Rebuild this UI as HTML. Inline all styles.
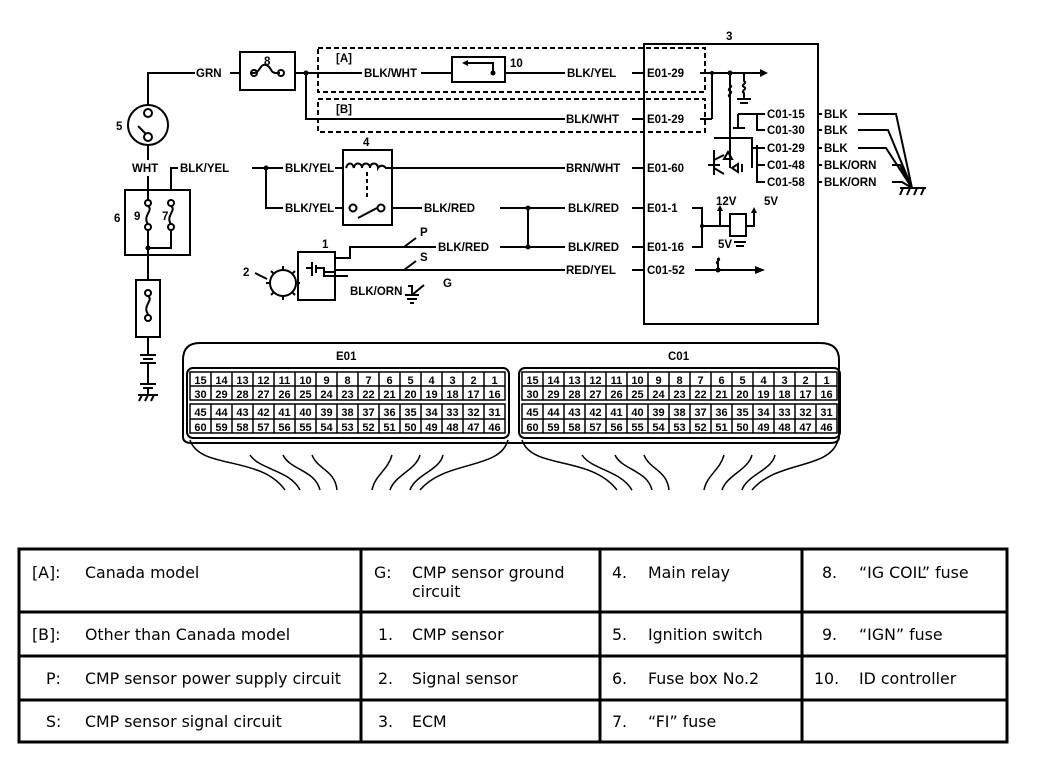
<!DOCTYPE html>
<html><head><meta charset="utf-8"><style>
html,body{margin:0;padding:0;background:#fff;}
svg{display:block;}
.l{font-family:"Liberation Sans",Arial,sans-serif;font-weight:bold;font-size:11.5px;fill:#000;}
.n{font-family:"Liberation Sans",Arial,sans-serif;font-weight:bold;font-size:11px;fill:#000;text-anchor:middle;}
.t{font-family:"DejaVu Sans",Verdana,sans-serif;font-size:15.8px;fill:#000;}
</style></head><body>
<svg width="1056" height="766" viewBox="0 0 1056 766" xmlns="http://www.w3.org/2000/svg">
<g stroke="#000" stroke-width="2" fill="none">
<path d="M148 105 V73 H195"/>
<circle cx="148" cy="125" r="20"/>
<circle cx="148" cy="113" r="4"/>
<circle cx="148" cy="137" r="4"/>
<line x1="138" y1="126" x2="146" y2="134"/>
<line x1="148" y1="145" x2="148" y2="160"/>
<line x1="230" y1="73" x2="240" y2="73"/>
<rect x="240" y="52" width="55" height="38"/>
<path d="M250 73 h4 M254 73 c6 0 6 -10 12 -8 c6 2 4 8 10 8 h4"/>
<circle cx="254" cy="73" r="3"/><circle cx="281" cy="73" r="3"/>
<path d="M295 73 H362 M421 73 H452 M505 73 H565 M632 73 H645"/>
<path d="M306 73 V119 H565 M632 119 H645"/>
<rect x="452" y="57" width="53" height="25"/>
<path d="M468 63 H493 V73"/>
<rect x="318" y="48" width="387" height="44" stroke-dasharray="5,3"/>
<rect x="318" y="99" width="387" height="33" stroke-dasharray="5,3"/>
<path d="M148 176 V190"/>
<rect x="125" y="190" width="65" height="65"/>
<path d="M148 190 v10 M148 248 V280 M171 190 V168 H178"/>
<path d="M148 230 V248 H171 V230"/>
<circle cx="148" cy="203" r="3"/><path d="M148 206 c6 4 -6 10 0 18"/><circle cx="148" cy="227" r="3"/>
<circle cx="171" cy="203" r="3"/><path d="M171 206 c6 4 -6 10 0 18"/><circle cx="171" cy="227" r="3"/>
<rect x="136" y="280" width="24" height="57"/>
<circle cx="148" cy="293" r="3"/><path d="M148 296 c6 4 -6 10 0 18"/><circle cx="148" cy="318" r="3"/>
<path d="M148 337 V355 M148 372 V384"/>
<path d="M140 355 h16 M143 359 h10 M140 363 h16 M148 363 v9" />
<path d="M140 384 h16 M143 388 h10" />
<path d="M148 388 v6 M138 395 h20"/>
<path d="M142 395 l-3 6 M148 395 l-3 6 M154 395 l-3 6"/>
<path d="M252 168 H283 M266 168 V208 H283 M335 168 H343 M335 208 H343"/>
<rect x="343" y="150" width="49" height="75"/>
<path d="M346 168 c2 -6 6 -6 8 0 M354 168 c0 -6 8 -6 8 0 M362 168 c0 -6 8 -6 8 0 M370 168 c0 -6 8 -6 8 0 c3 -4 6 -2 8 0 H392"/>
<line x1="367" y1="172" x2="367" y2="200" stroke-dasharray="4,3"/>
<circle cx="353" cy="208" r="3.5"/><circle cx="381" cy="208" r="3.5"/>
<line x1="358" y1="218" x2="377" y2="208"/>
<path d="M392 168 H565 M632 168 H645"/>
<path d="M392 208 H422 M500 208 H565 M632 208 H645 M528 208 V247 M500 247 H565 M632 247 H645"/>
<rect x="298" y="252" width="37" height="48"/>
<path d="M335 258 H350 V247 H436"/>
<path d="M335 270 H565 M632 270 H645"/>
<path d="M306 268 h6 M312 262 v14 M316 265 v8 M316 268 h8 v4 h11 M324 268 v8 h24"/>
<path d="M408 286 h4 v9 M405 295 h14 M407 299 h10 M410 303 h4 M412 295 l12 -10"/>
<path d="M404 247 l12 -9 M404 270 l12 -9"/>
<circle cx="283" cy="283" r="13"/>
<path d="M270 283 h-4 M296 283 h4 M283 270 v-4 M283 296 v4 M274 274 l-3 -3 M292 274 l3 -3 M274 292 l-3 3 M292 292 l3 3"/>
<path d="M255 273 l12 6"/>
<rect x="644" y="44" width="174" height="280"/>
<path d="M700 73 H712 M700 119 H712 M712 73 V119"/>
<path d="M712 73 H760"/>
<path d="M744 73 v8 c4 2 -4 4 0 6 c4 2 -4 4 0 6 v6 M737 99 h14 M740 103 h8"/>
<path d="M730 73 V140 M730 85 c4 2 -4 4 0 6 c4 2 -4 4 0 6"/>
<path d="M730 138 v30 M714 138 H752 V168 M752 138 V160"/>
<path d="M738 114 H757 M738 114 V128 M733 128 h12"/>
<path d="M752 114 H765 M757 114 V130 H765 M757 145 V182 H765 M757 165 H765 M752 148 H765"/>
<path d="M720 165 H708 M714 150 V175 M714 160 l10 -5 M714 168 l10 6"/>
<path d="M728 152 l-4 7 h8 z M738 164 l-6 4 6 4 z M742 164 v8"/>
<path d="M692 208 H702 V247 H692 M702 226 H720 V210 M720 226 H730 M746 226 H754 V212"/>
<rect x="730" y="214" width="16" height="22"/>
<path d="M734 242 h12 M736 246 h8"/>
<path d="M718 258 V270 M718 258 c4 2 -4 4 0 6"/>
<path d="M695 270 H755"/>
<path d="M818 114 H822 M818 130 H822 M818 148 H822 M818 165 H822 M818 182 H822"/>
<path d="M858 114 H896 L912 188 M858 130 H888 L912 188 M858 148 H886 L912 188 M892 165 H900 L912 188 M892 182 H902 L912 188"/>
<path d="M900 188 h26 M903 188 l-3 7 M910 188 l-3 7 M917 188 l-3 7 M924 188 l-3 7"/>
<path d="M183 437 V360 Q183 343 200 343 H820 Q839 343 839 360 V437 Q839 443 830 443 H192 Q183 443 183 437"/>
<rect x="187" y="368" width="322" height="70" rx="6"/>
<rect x="519" y="368" width="321" height="70" rx="6"/>
<g stroke-width="1.5">
<rect x="190" y="372" width="315" height="28"/><line x1="190" y1="386" x2="505" y2="386"/>
<rect x="190" y="404" width="315" height="29"/><line x1="190" y1="419" x2="505" y2="419"/>
<rect x="522" y="372" width="315" height="28"/><line x1="522" y1="386" x2="837" y2="386"/>
<rect x="522" y="404" width="315" height="29"/><line x1="522" y1="419" x2="837" y2="419"/>
<path d="M211 372v28M232 372v28M253 372v28M274 372v28M295 372v28M316 372v28M337 372v28M358 372v28M379 372v28M400 372v28M421 372v28M442 372v28M463 372v28M484 372v28"/>
<path d="M211 404v29M232 404v29M253 404v29M274 404v29M295 404v29M316 404v29M337 404v29M358 404v29M379 404v29M400 404v29M421 404v29M442 404v29M463 404v29M484 404v29"/>
<path d="M543 372v28M564 372v28M585 372v28M606 372v28M627 372v28M648 372v28M669 372v28M690 372v28M711 372v28M732 372v28M753 372v28M774 372v28M795 372v28M816 372v28"/>
<path d="M543 404v29M564 404v29M585 404v29M606 404v29M627 404v29M648 404v29M669 404v29M690 404v29M711 404v29M732 404v29M753 404v29M774 404v29M795 404v29M816 404v29"/>
</g>
<g stroke-width="1.5">
<path d="M190 440 C200 470 260 455 285 490"/>
<path d="M250 455 C260 470 290 470 300 490"/>
<path d="M283 455 C290 470 315 470 320 490"/>
<path d="M312 455 C318 470 335 470 337 490"/>
<path d="M392 455 C388 470 375 475 372 490"/>
<path d="M420 455 C416 470 395 475 390 490"/>
<path d="M443 455 C440 470 415 475 410 490"/>
<path d="M508 440 C500 470 445 460 420 490"/>
<path d="M522 440 C532 470 590 455 617 490"/>
<path d="M582 455 C592 470 620 470 632 490"/>
<path d="M615 455 C622 470 647 470 652 490"/>
<path d="M644 455 C650 470 667 470 669 490"/>
<path d="M724 455 C720 470 707 475 704 490"/>
<path d="M752 455 C748 470 727 475 722 490"/>
<path d="M775 455 C772 470 747 475 742 490"/>
<path d="M838 440 C830 470 777 460 752 490"/>
</g>
</g>
<g fill="#000">
<circle cx="306" cy="73" r="2.5"/><circle cx="266" cy="168" r="2.5"/><circle cx="528" cy="208" r="2.5"/><circle cx="528" cy="247" r="2.5"/>
<circle cx="148" cy="248" r="2.5"/><circle cx="493" cy="73" r="2.5"/><circle cx="730" cy="73" r="2.5"/><circle cx="712" cy="73" r="2"/>
<circle cx="702" cy="226" r="2"/><circle cx="718" cy="270" r="2.5"/>
<path d="M760 69 l8 4 -8 4z M755 266 l10 4 -10 4z M468 60 l-6 3 6 3z M720 205 l-3 6h6z M754 207 l-3 6h6z"/>
</g>
<text class="l" x="196" y="77">GRN</text>
<text class="l" x="264" y="65" font-size="11">8</text>
<text class="l" x="336" y="62">[A]</text>
<text class="l" x="336" y="113">[B]</text>
<text class="l" x="364" y="77">BLK/WHT</text>
<text class="l" x="510" y="67">10</text>
<text class="l" x="567" y="77">BLK/YEL</text>
<text class="l" x="647" y="77">E01-29</text>
<text class="l" x="566" y="123">BLK/WHT</text>
<text class="l" x="647" y="123">E01-29</text>
<text class="l" x="726" y="40">3</text>
<text class="l" x="116" y="130">5</text>
<text class="l" x="132" y="172">WHT</text>
<text class="l" x="180" y="172">BLK/YEL</text>
<text class="l" x="285" y="172">BLK/YEL</text>
<text class="l" x="285" y="212">BLK/YEL</text>
<text class="l" x="363" y="146">4</text>
<text class="l" x="566" y="172">BRN/WHT</text>
<text class="l" x="647" y="172">E01-60</text>
<text class="l" x="424" y="212">BLK/RED</text>
<text class="l" x="568" y="212">BLK/RED</text>
<text class="l" x="647" y="212">E01-1</text>
<text class="l" x="438" y="251">BLK/RED</text>
<text class="l" x="568" y="251">BLK/RED</text>
<text class="l" x="647" y="251">E01-16</text>
<text class="l" x="566" y="274">RED/YEL</text>
<text class="l" x="647" y="274">C01-52</text>
<text class="l" x="420" y="236">P</text>
<text class="l" x="420" y="261">S</text>
<text class="l" x="322" y="248">1</text>
<text class="l" x="243" y="276">2</text>
<text class="l" x="350" y="295">BLK/ORN</text>
<text class="l" x="443" y="287">G</text>
<text class="l" x="114" y="222">6</text>
<text class="l" x="134" y="220">9</text>
<text class="l" x="162" y="220">7</text>
<text class="l" x="716" y="205">12V</text>
<text class="l" x="764" y="205">5V</text>
<text class="l" x="718" y="248">5V</text>
<text class="l" x="767" y="118">C01-15</text>
<text class="l" x="767" y="134">C01-30</text>
<text class="l" x="767" y="152">C01-29</text>
<text class="l" x="767" y="169">C01-48</text>
<text class="l" x="767" y="186">C01-58</text>
<text class="l" x="824" y="118">BLK</text>
<text class="l" x="824" y="134">BLK</text>
<text class="l" x="824" y="152">BLK</text>
<text class="l" x="824" y="169">BLK/ORN</text>
<text class="l" x="824" y="186">BLK/ORN</text>
<text class="l" x="336" y="360">E01</text>
<text class="l" x="668" y="360">C01</text>
<g class="n">
<text x="200.5" y="384">15</text><text x="221.5" y="384">14</text><text x="242.5" y="384">13</text><text x="263.5" y="384">12</text><text x="284.5" y="384">11</text><text x="305.5" y="384">10</text><text x="326.5" y="384">9</text><text x="347.5" y="384">8</text><text x="368.5" y="384">7</text><text x="389.5" y="384">6</text><text x="410.5" y="384">5</text><text x="431.5" y="384">4</text><text x="452.5" y="384">3</text><text x="473.5" y="384">2</text><text x="494.5" y="384">1</text>
<text x="200.5" y="398">30</text><text x="221.5" y="398">29</text><text x="242.5" y="398">28</text><text x="263.5" y="398">27</text><text x="284.5" y="398">26</text><text x="305.5" y="398">25</text><text x="326.5" y="398">24</text><text x="347.5" y="398">23</text><text x="368.5" y="398">22</text><text x="389.5" y="398">21</text><text x="410.5" y="398">20</text><text x="431.5" y="398">19</text><text x="452.5" y="398">18</text><text x="473.5" y="398">17</text><text x="494.5" y="398">16</text>
<text x="200.5" y="416">45</text><text x="221.5" y="416">44</text><text x="242.5" y="416">43</text><text x="263.5" y="416">42</text><text x="284.5" y="416">41</text><text x="305.5" y="416">40</text><text x="326.5" y="416">39</text><text x="347.5" y="416">38</text><text x="368.5" y="416">37</text><text x="389.5" y="416">36</text><text x="410.5" y="416">35</text><text x="431.5" y="416">34</text><text x="452.5" y="416">33</text><text x="473.5" y="416">32</text><text x="494.5" y="416">31</text>
<text x="200.5" y="431">60</text><text x="221.5" y="431">59</text><text x="242.5" y="431">58</text><text x="263.5" y="431">57</text><text x="284.5" y="431">56</text><text x="305.5" y="431">55</text><text x="326.5" y="431">54</text><text x="347.5" y="431">53</text><text x="368.5" y="431">52</text><text x="389.5" y="431">51</text><text x="410.5" y="431">50</text><text x="431.5" y="431">49</text><text x="452.5" y="431">48</text><text x="473.5" y="431">47</text><text x="494.5" y="431">46</text>
<text x="532.5" y="384">15</text><text x="553.5" y="384">14</text><text x="574.5" y="384">13</text><text x="595.5" y="384">12</text><text x="616.5" y="384">11</text><text x="637.5" y="384">10</text><text x="658.5" y="384">9</text><text x="679.5" y="384">8</text><text x="700.5" y="384">7</text><text x="721.5" y="384">6</text><text x="742.5" y="384">5</text><text x="763.5" y="384">4</text><text x="784.5" y="384">3</text><text x="805.5" y="384">2</text><text x="826.5" y="384">1</text>
<text x="532.5" y="398">30</text><text x="553.5" y="398">29</text><text x="574.5" y="398">28</text><text x="595.5" y="398">27</text><text x="616.5" y="398">26</text><text x="637.5" y="398">25</text><text x="658.5" y="398">24</text><text x="679.5" y="398">23</text><text x="700.5" y="398">22</text><text x="721.5" y="398">21</text><text x="742.5" y="398">20</text><text x="763.5" y="398">19</text><text x="784.5" y="398">18</text><text x="805.5" y="398">17</text><text x="826.5" y="398">16</text>
<text x="532.5" y="416">45</text><text x="553.5" y="416">44</text><text x="574.5" y="416">43</text><text x="595.5" y="416">42</text><text x="616.5" y="416">41</text><text x="637.5" y="416">40</text><text x="658.5" y="416">39</text><text x="679.5" y="416">38</text><text x="700.5" y="416">37</text><text x="721.5" y="416">36</text><text x="742.5" y="416">35</text><text x="763.5" y="416">34</text><text x="784.5" y="416">33</text><text x="805.5" y="416">32</text><text x="826.5" y="416">31</text>
<text x="532.5" y="431">60</text><text x="553.5" y="431">59</text><text x="574.5" y="431">58</text><text x="595.5" y="431">57</text><text x="616.5" y="431">56</text><text x="637.5" y="431">55</text><text x="658.5" y="431">54</text><text x="679.5" y="431">53</text><text x="700.5" y="431">52</text><text x="721.5" y="431">51</text><text x="742.5" y="431">50</text><text x="763.5" y="431">49</text><text x="784.5" y="431">48</text><text x="805.5" y="431">47</text><text x="826.5" y="431">46</text>
</g>
<g stroke="#000" stroke-width="3" fill="none">
<rect x="19" y="549" width="988" height="193"/>
<line x1="19" y1="612" x2="1007" y2="612"/>
<line x1="19" y1="656" x2="1007" y2="656"/>
<line x1="19" y1="700" x2="1007" y2="700"/>
<line x1="361" y1="549" x2="361" y2="742"/>
<line x1="600" y1="549" x2="600" y2="742"/>
<line x1="802" y1="549" x2="802" y2="742"/>
</g>
<g class="t">
<text x="32" y="578">[A]:</text><text x="85" y="578">Canada model</text>
<text x="32" y="640">[B]:</text><text x="85" y="640">Other than Canada model</text>
<text x="46" y="684">P:</text><text x="85" y="684">CMP sensor power supply circuit</text>
<text x="46" y="727">S:</text><text x="85" y="727">CMP sensor signal circuit</text>
<text x="374" y="578">G:</text><text x="412" y="578">CMP sensor ground</text><text x="412" y="597">circuit</text>
<text x="378" y="640">1.</text><text x="412" y="640">CMP sensor</text>
<text x="378" y="684">2.</text><text x="412" y="684">Signal sensor</text>
<text x="378" y="727">3.</text><text x="412" y="727">ECM</text>
<text x="612" y="578">4.</text><text x="648" y="578">Main relay</text>
<text x="612" y="640">5.</text><text x="648" y="640">Ignition switch</text>
<text x="612" y="684">6.</text><text x="648" y="684">Fuse box No.2</text>
<text x="612" y="727">7.</text><text x="648" y="727">“FI” fuse</text>
<text x="822" y="578">8.</text><text x="859" y="578">“IG COIL” fuse</text>
<text x="822" y="640">9.</text><text x="859" y="640">“IGN” fuse</text>
<text x="814" y="684">10.</text><text x="859" y="684">ID controller</text>
</g>
</svg>
</body></html>
